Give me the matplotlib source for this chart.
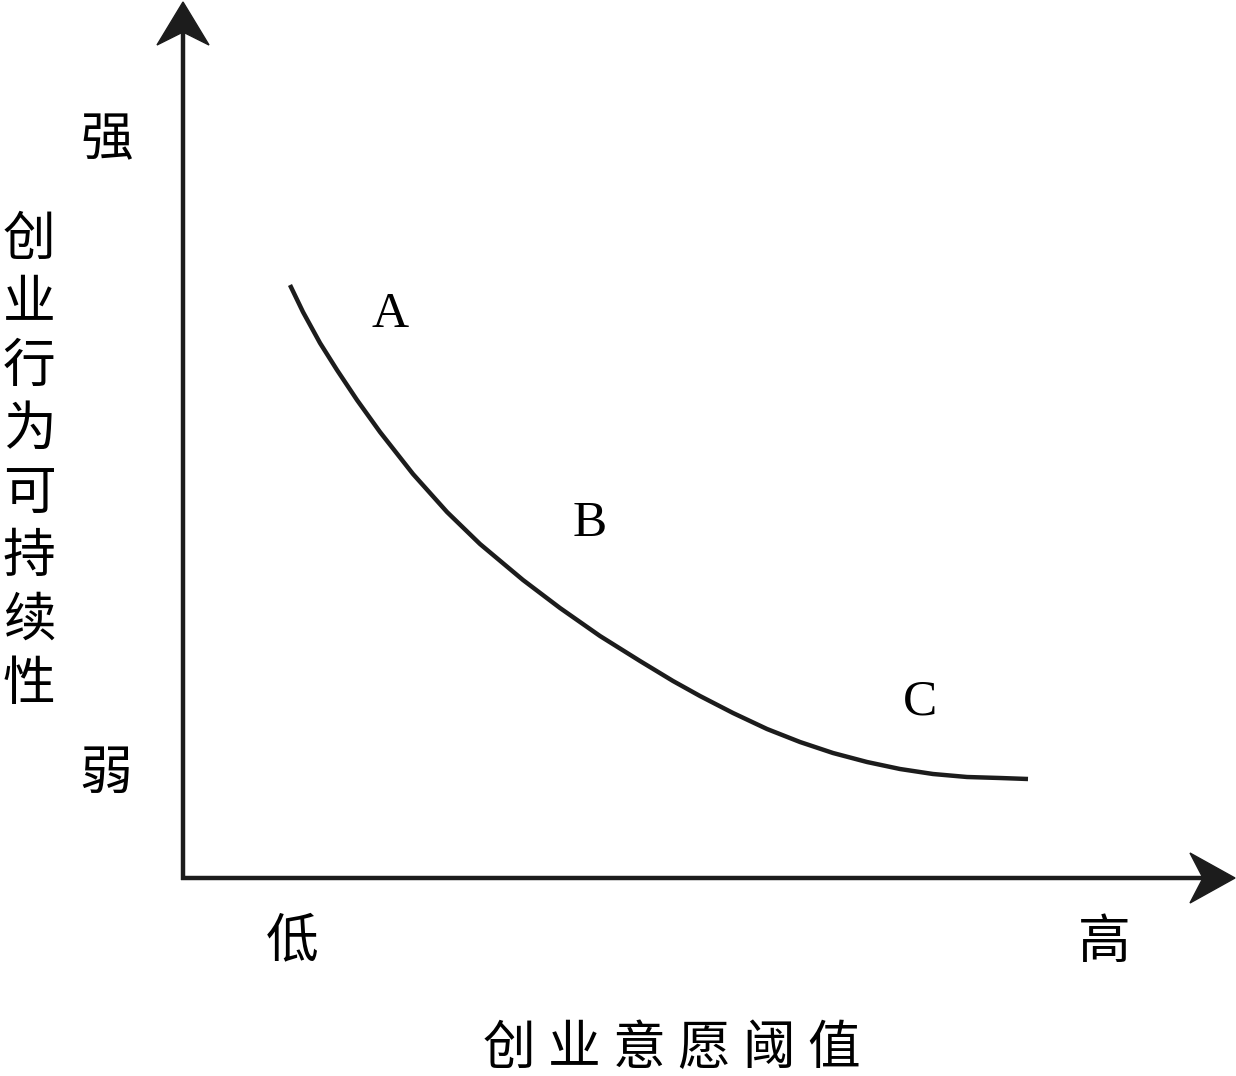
import matplotlib.pyplot as plt
from matplotlib.patches import Polygon

plt.rcParams['font.family'] = ['Noto Sans CJK SC', 'DejaVu Sans']

# curve (pixel-like units, y grows downwards)
curve_x = [290, 303, 320, 337, 357, 380, 413, 447, 480, 523, 560, 600, 640,
           673, 700, 733, 767, 800, 833, 867, 900, 933, 967, 1000, 1028]
curve_y = [285, 312, 343, 370, 400, 432, 474, 512, 544, 580, 608, 636, 661,
           681, 696, 713, 729, 742, 753, 762, 769, 774, 777, 778, 779]

point_labels = ['A', 'B', 'C']
point_x = [390, 590, 920]
point_y = [315, 524, 702]

y_ticks = ['强', '弱']
x_ticks = ['低', '高']
x_title = '创业意愿阈值'
y_title = '创业行为可持续性'

ink = '#1c1c1c'
fs = 38

fig = plt.figure(figsize=(12.36, 10.76), dpi=100)
ax = fig.add_axes([0, 0, 1, 1])
ax.set_xlim(0, 1236)
ax.set_ylim(1076, 0)
ax.axis('off')

# axes with arrow heads
ax.plot([183, 183], [880, 30], color=ink, lw=3.2, solid_capstyle='butt')
ax.plot([181, 1205], [878, 878], color=ink, lw=3.2, solid_capstyle='butt')
ax.add_patch(Polygon([[183, 2], [157, 45], [183, 32], [209, 45]], closed=True,
                     facecolor=ink, edgecolor=ink, lw=1))
ax.add_patch(Polygon([[1235, 878], [1190, 853], [1203, 878], [1190, 903]], closed=True,
                     facecolor=ink, edgecolor=ink, lw=1))

ax.plot(curve_x, curve_y, color=ink, lw=3.2, solid_joinstyle='round',
        solid_capstyle='butt')

for lab, px, py in zip(point_labels, point_x, point_y):
    ax.text(px, py, lab, fontsize=37, family='Liberation Serif', color='black',
            ha='center', va='center')

ax.text(107, 140, y_ticks[0], fontsize=fs, ha='center', va='center')
ax.text(106, 773, y_ticks[1], fontsize=fs, ha='center', va='center')
ax.text(292, 941, x_ticks[0], fontsize=fs, ha='center', va='center')
ax.text(1104, 942, x_ticks[1], fontsize=fs, ha='center', va='center')

# titles: one glyph per slot, spaced like the original
for i, ch in enumerate(x_title):
    ax.text(509 + 65 * i, 1048, ch, fontsize=fs, ha='center', va='center')
for i, ch in enumerate(y_title):
    ax.text(29, 239 + 63.6 * i, ch, fontsize=fs, ha='center', va='center')

plt.savefig('out.png', dpi=100)
